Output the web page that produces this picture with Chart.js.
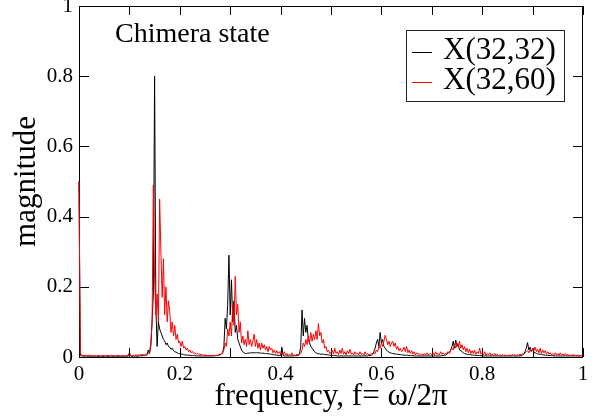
<!DOCTYPE html>
<html>
<head>
<meta charset="utf-8">
<script src="https://cdn.jsdelivr.net/npm/chart.js@4.4.1/dist/chart.umd.min.js"></script>
<style>
html,body{margin:0;padding:0;background:#fff;}
#wrap{width:595px;height:416px;}
</style>
</head>
<body>
<div id="wrap"><canvas id="c" width="595" height="416"></canvas></div>
<script>
// sample grid step of the spectrum (frequency axis)
const FREQ_STEP = 0.0025;
const xTickLabels = ['0','0.2','0.4','0.6','0.8','1'];
const yTickLabels = ['0','0.2','0.4','0.6','0.8','1'];
const xMinorTicks = [0,0.1,0.2,0.3,0.4,0.5,0.6,0.7,0.8,0.9,1];
const yMajorTicks = [0,0.2,0.4,0.6,0.8,1];
const seriesNames = ['X(32,32)','X(32,60)'];
const annotation = 'Chimera state';

const magBlack = [
0.5,0.004,0.003,0.003,0.002,0.003,0.002,0.002,0.003,0.002,0.002,0.002,0.003,0.002,0.002,0.002,0.002,0.003,0.002,0.002,
0.002,0.003,0.002,0.002,0.002,0.003,0.002,0.002,0.002,0.002,0.003,0.002,0.002,0.002,0.003,0.002,0.002,0.002,0.003,0.002,
0.012,0.003,0.002,0.003,0.002,0.003,0.002,0.003,0.003,0.004,0.003,0.004,0.004,0.005,0.006,0.02,0.01,0.03,0.1,0.18,
0.8,0.14,0.03,0.1,0.08,0.07,0.06,0.05,0.045,0.035,0.04,0.03,0.028,0.022,0.025,0.018,0.015,0.014,0.012,0.01,
0.009,0.008,0.008,0.007,0.006,0.006,0.005,0.005,0.005,0.004,0.004,0.004,0.004,0.003,0.003,0.003,0.003,0.003,0.003,0.003,
0.003,0.003,0.003,0.003,0.003,0.003,0.003,0.003,0.004,0.004,0.004,0.005,0.006,0.008,0.012,0.03,0.11,0.08,0.15,0.29,
0.12,0.22,0.1,0.16,0.07,0.09,0.05,0.04,0.03,0.02,0.015,0.012,0.01,0.01,0.011,0.011,0.012,0.012,0.012,0.012,
0.012,0.012,0.012,0.012,0.011,0.011,0.011,0.01,0.01,0.01,0.009,0.009,0.008,0.008,0.007,0.006,0.006,0.005,0.005,0.004,
0.004,0.028,0.004,0.003,0.003,0.003,0.003,0.003,0.003,0.003,0.003,0.003,0.004,0.004,0.006,0.01,0.03,0.134,0.06,0.11,
0.07,0.09,0.05,0.04,0.03,0.025,0.02,0.015,0.012,0.01,0.009,0.009,0.008,0.008,0.008,0.007,0.007,0.006,0.006,0.005,
0.005,0.005,0.004,0.004,0.004,0.003,0.003,0.003,0.003,0.003,0.003,0.003,0.003,0.003,0.003,0.003,0.003,0.003,0.003,0.003,
0.003,0.003,0.003,0.003,0.003,0.003,0.003,0.003,0.003,0.003,0.004,0.004,0.005,0.008,0.015,0.025,0.04,0.05,0.03,0.07,
0.04,0.05,0.03,0.025,0.02,0.016,0.014,0.012,0.011,0.01,0.009,0.009,0.008,0.008,0.007,0.007,0.006,0.006,0.005,0.005,
0.005,0.005,0.004,0.004,0.004,0.004,0.003,0.003,0.003,0.003,0.003,0.003,0.003,0.003,0.003,0.003,0.003,0.003,0.003,0.003,
0.003,0.003,0.003,0.003,0.003,0.003,0.003,0.003,0.004,0.004,0.005,0.006,0.008,0.012,0.015,0.02,0.03,0.045,0.025,0.048,
0.03,0.035,0.02,0.018,0.015,0.012,0.01,0.009,0.008,0.007,0.007,0.006,0.006,0.005,0.005,0.005,0.004,0.004,0.004,0.004,
0.003,0.003,0.003,0.003,0.003,0.003,0.003,0.003,0.003,0.003,0.003,0.003,0.003,0.003,0.003,0.003,0.003,0.003,0.003,0.003,
0.003,0.003,0.003,0.003,0.003,0.003,0.003,0.003,0.003,0.003,0.003,0.004,0.005,0.008,0.015,0.025,0.041,0.02,0.028,0.018,
0.02,0.014,0.012,0.01,0.009,0.008,0.008,0.007,0.006,0.006,0.005,0.005,0.005,0.004,0.004,0.004,0.004,0.003,0.003,0.003,
0.003,0.003,0.003,0.003,0.003,0.003,0.003,0.003,0.003,0.003,0.003,0.003,0.003,0.003,0.003,0.003,0.003,0.003,0.003,0.003,
0.003
];

const magRed = [
0.5,0.012,0.006,0.005,0.004,0.005,0.004,0.004,0.005,0.004,0.004,0.003,0.004,0.004,0.003,0.004,0.004,0.003,0.004,0.004,
0.004,0.003,0.005,0.004,0.003,0.004,0.005,0.003,0.004,0.004,0.003,0.005,0.004,0.003,0.004,0.004,0.003,0.004,0.005,0.004,
0.004,0.005,0.004,0.005,0.004,0.006,0.005,0.006,0.005,0.007,0.006,0.008,0.006,0.009,0.007,0.01,0.015,0.04,0.1,0.49,
0.22,0.12,0.18,0.1,0.45,0.3,0.17,0.28,0.12,0.2,0.1,0.16,0.13,0.07,0.1,0.06,0.09,0.05,0.065,0.04,
0.045,0.03,0.045,0.025,0.03,0.02,0.025,0.015,0.02,0.012,0.016,0.01,0.012,0.008,0.01,0.007,0.009,0.006,0.007,0.005,
0.006,0.005,0.004,0.005,0.004,0.004,0.005,0.004,0.004,0.005,0.005,0.006,0.008,0.01,0.012,0.02,0.04,0.03,0.08,0.06,
0.1,0.06,0.15,0.09,0.23,0.12,0.15,0.07,0.1,0.04,0.06,0.035,0.05,0.03,0.075,0.035,0.05,0.03,0.045,0.065,
0.03,0.05,0.025,0.04,0.02,0.04,0.025,0.035,0.02,0.03,0.015,0.03,0.02,0.025,0.012,0.02,0.01,0.018,0.01,0.015,
0.008,0.012,0.006,0.015,0.005,0.01,0.004,0.008,0.005,0.012,0.004,0.006,0.004,0.008,0.005,0.006,0.01,0.02,0.04,0.03,
0.05,0.035,0.06,0.04,0.07,0.045,0.065,0.05,0.075,0.05,0.095,0.06,0.07,0.04,0.05,0.025,0.03,0.015,0.02,0.01,
0.012,0.02,0.008,0.025,0.01,0.015,0.006,0.02,0.01,0.025,0.008,0.015,0.006,0.018,0.01,0.022,0.008,0.012,0.006,0.015,
0.008,0.012,0.006,0.015,0.008,0.01,0.005,0.015,0.007,0.01,0.006,0.008,0.01,0.008,0.012,0.01,0.02,0.015,0.03,0.025,
0.04,0.03,0.045,0.062,0.05,0.035,0.045,0.03,0.04,0.045,0.03,0.04,0.022,0.03,0.018,0.025,0.015,0.02,0.028,0.015,
0.03,0.012,0.02,0.01,0.018,0.008,0.015,0.006,0.012,0.008,0.01,0.005,0.008,0.006,0.01,0.005,0.012,0.006,0.008,0.01,
0.006,0.012,0.005,0.015,0.008,0.01,0.006,0.015,0.008,0.012,0.007,0.01,0.012,0.015,0.01,0.02,0.025,0.02,0.035,0.025,
0.04,0.03,0.045,0.025,0.035,0.02,0.03,0.015,0.025,0.012,0.022,0.01,0.018,0.01,0.02,0.008,0.015,0.01,0.025,0.008,
0.012,0.006,0.015,0.005,0.01,0.006,0.012,0.005,0.008,0.004,0.01,0.005,0.008,0.004,0.006,0.004,0.007,0.004,0.006,0.003,
0.005,0.004,0.006,0.004,0.008,0.005,0.006,0.004,0.007,0.005,0.008,0.006,0.01,0.008,0.012,0.015,0.018,0.012,0.02,0.015,
0.025,0.018,0.028,0.015,0.022,0.012,0.025,0.01,0.02,0.012,0.018,0.008,0.015,0.008,0.012,0.006,0.01,0.006,0.012,0.005,
0.01,0.005,0.012,0.006,0.008,0.005,0.01,0.004,0.008,0.004,0.006,0.004,0.008,0.004,0.005,0.003,0.006,0.003,0.004,0.003,
0.003
];

const freq = magBlack.map((_, i) => +(i * FREQ_STEP).toFixed(4));
const toPts = (ys) => ys.map((y, i) => ({x: freq[i], y: y}));

const SERIF = "'Liberation Serif', 'Times New Roman', serif";

const framePlugin = {
  id: 'frame',
  beforeDatasetsDraw(chart) {
    const {ctx, chartArea: a, scales: {x, y}} = chart;
    ctx.save();
    ctx.strokeStyle = '#000';
    ctx.lineWidth = 1;
    ctx.beginPath();
    ctx.rect(Math.round(a.left) + 0.5, Math.round(a.top) + 0.5, Math.round(a.right - a.left) - 1, Math.round(a.bottom - a.top));
    ctx.stroke();
    ctx.beginPath();
    xMinorTicks.forEach(v => {
      const px = Math.round(x.getPixelForValue(v)) + 0.5;
      ctx.moveTo(px, a.bottom); ctx.lineTo(px, a.bottom - 9);
      ctx.moveTo(px, a.top); ctx.lineTo(px, a.top + 9);
    });
    yMajorTicks.forEach(v => {
      const py = Math.round(y.getPixelForValue(v)) + 0.5;
      ctx.moveTo(a.left, py); ctx.lineTo(a.left + 10, py);
      ctx.moveTo(a.right, py); ctx.lineTo(a.right - 10, py);
    });
    ctx.stroke();
    ctx.restore();
  },
  afterDatasetsDraw(chart) {
    const {ctx} = chart;
    ctx.save();
    // annotation text
    ctx.fillStyle = '#000';
    ctx.textBaseline = 'alphabetic';
    ctx.textAlign = 'left';
    ctx.font = '28px ' + SERIF;
    ctx.fillText(annotation, 115, 42);

    // legend box
    ctx.lineWidth = 1;
    ctx.strokeStyle = '#222';
    ctx.strokeRect(406.5, 30.5, 158, 71);
    const rows = [{c: '#000', y: 52}, {c: '#ff0000', y: 82}];
    ctx.font = '31px ' + SERIF;
    rows.forEach((r, i) => {
      ctx.strokeStyle = r.c;
      ctx.beginPath();
      ctx.moveTo(412, r.y + 0.5); ctx.lineTo(432, r.y + 0.5);
      ctx.stroke();
      ctx.fillStyle = '#000';
      ctx.fillText(seriesNames[i], 443, r.y + 6.5);
    });
    ctx.restore();
  }
};

new Chart(document.getElementById('c'), {
  type: 'line',
  data: {
    datasets: [
      {label: seriesNames[0], data: toPts(magBlack), borderColor: '#000', borderWidth: 1, pointRadius: 0, tension: 0, order: 1, clip: 2},
      {label: seriesNames[1], data: toPts(magRed), borderColor: '#ff0000', borderWidth: 1, pointRadius: 0, tension: 0, order: 0, clip: 2}
    ]
  },
  options: {
    responsive: false,
    animation: false,
    devicePixelRatio: 1,
    layout: {padding: {top: 6, right: 12, left: 0, bottom: 0}},
    plugins: {legend: {display: false}, tooltip: {enabled: false}},
    scales: {
      x: {
        type: 'linear', min: 0, max: 1,
        grid: {display: false, drawTicks: false},
        border: {display: false},
        ticks: {
          stepSize: 0.2, padding: 5, color: '#000', maxRotation: 0,
          font: {family: SERIF, size: 21},
          callback: (v) => { const i = Math.round(v / 0.2); return Math.abs(v - i * 0.2) < 1e-6 ? xTickLabels[i] : ''; }
        },
        title: {display: true, text: 'frequency, f= ω/2π', color: '#000', font: {family: SERIF, size: 31, lineHeight: 1}, padding: {top: 0, bottom: 4}},
        afterFit: (s) => { s.height = 59; s.paddingLeft = 0; s.paddingRight = 0; }
      },
      y: {
        type: 'linear', min: 0, max: 1,
        grid: {display: false, drawTicks: false},
        border: {display: false},
        ticks: {
          stepSize: 0.2, padding: 6, color: '#000',
          font: {family: SERIF, size: 21},
          callback: (v) => { const i = Math.round(v / 0.2); return Math.abs(v - i * 0.2) < 1e-6 ? yTickLabels[i] : ''; }
        },
        title: {display: true, text: 'magnitude', color: '#000', font: {family: SERIF, size: 31, lineHeight: 1}, padding: {top: 11, bottom: 0}},
        afterFit: (s) => { s.width = 79; s.paddingTop = 0; s.paddingBottom = 0; }
      }
    }
  },
  plugins: [framePlugin]
});
</script>
</body>
</html>
